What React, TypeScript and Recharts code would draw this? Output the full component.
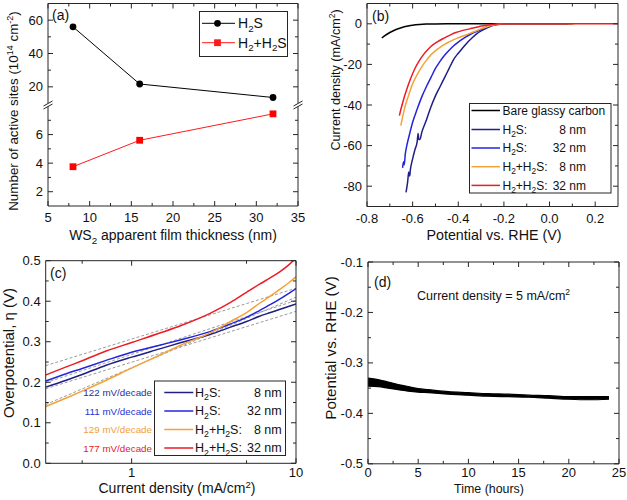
import React from 'react';
import { LineChart, Line, XAxis, YAxis, ComposedChart, Area } from 'recharts';

const W = 627;
const H = 500;
const FONT = '"Liberation Sans", Arial, Helvetica, sans-serif';
const AX = '#262626';

// ---------------- Panel (a): active sites vs thickness ----------------
const thicknessNm = [8, 16, 32];
const sitesH2S = [56, 21.7, 13.6];
const sitesH2H2S = [3.75, 5.6, 7.45];
const aXMajor = [5, 10, 15, 20, 25, 30, 35];
const aXMinor = [7.5, 12.5, 17.5, 22.5, 27.5, 32.5];
const aUpMajor = [20, 40, 60];
const aUpMinor = [30, 50];
const aLoMajor = [2, 4, 6];
const aLoMinor = [3, 5, 7];

// ---------------- Panel (b): polarization curves ----------------
const bareV = [-0.735, -0.72, -0.7, -0.68, -0.66, -0.64, -0.62, -0.6, -0.57, -0.54, -0.5, -0.45, 0.1];
const bareJ = [-7.0, -5.7, -4.3, -3.2, -2.3, -1.6, -1.1, -0.7, -0.35, -0.15, -0.05, 0, 0];
const h2s8V = [-0.629, -0.622, -0.617, -0.613, -0.61, -0.6, -0.59, -0.58, -0.576, -0.573, -0.568, -0.56, -0.54, -0.52, -0.5, -0.48, -0.46, -0.44, -0.42, -0.4, -0.38, -0.36, -0.34, -0.32, -0.3, -0.28, -0.26, -0.24, -0.22, -0.18, 0.08];
const h2s8J = [-83, -78, -73, -75, -72, -66.5, -62, -58, -54, -57, -57, -53.5, -47.5, -41, -35.5, -31, -26.5, -22, -17.5, -14.5, -11.8, -9.2, -7, -5, -3.5, -2.3, -1.3, -0.6, -0.2, 0, 0];
const h2s32V = [-0.644, -0.64, -0.637, -0.632, -0.626, -0.615, -0.6, -0.58, -0.56, -0.54, -0.52, -0.5, -0.48, -0.46, -0.44, -0.42, -0.4, -0.38, -0.36, -0.34, -0.32, -0.3, -0.28, -0.26, -0.24, -0.22, -0.2, 0.08];
const h2s32J = [-71, -68, -69.5, -64, -60.3, -55, -48.5, -42, -36, -31, -26.5, -22, -18.5, -15.5, -13, -10.8, -9, -7.4, -6, -4.8, -3.8, -2.8, -1.8, -1, -0.5, -0.2, 0, 0];
const h2h2s8V = [-0.652, -0.645, -0.633, -0.62, -0.6, -0.58, -0.56, -0.54, -0.52, -0.5, -0.48, -0.46, -0.44, -0.42, -0.4, -0.38, -0.36, -0.34, -0.32, -0.3, -0.28, -0.26, -0.24, -0.22, -0.2, 0.11];
const h2h2s8J = [-50.2, -46.5, -40.7, -36, -29.5, -25, -21.2, -18, -15.3, -13.3, -11.6, -10.1, -8.9, -7.8, -6.9, -6, -5.2, -4.3, -3.4, -2.5, -1.7, -1.0, -0.5, -0.2, 0, 0];
const h2h2s32V = [-0.658, -0.65, -0.64, -0.625, -0.61, -0.59, -0.57, -0.55, -0.53, -0.51, -0.49, -0.47, -0.45, -0.43, -0.41, -0.39, -0.37, -0.35, -0.33, -0.31, -0.29, -0.27, -0.25, -0.22, -0.2, 0.3];
const h2h2s32J = [-45.2, -41.5, -37.4, -32, -27.3, -22, -18, -14.8, -12.3, -10.3, -8.8, -7.5, -6.3, -5.2, -4.3, -3.6, -3.0, -2.5, -1.9, -1.4, -1.0, -0.6, -0.3, -0.1, 0, 0];
const bXMajor = [-0.8, -0.6, -0.4, -0.2, 0, 0.2];
const bXMinor = [-0.7, -0.5, -0.3, -0.1, 0.1];
const bYMajor = [0, -20, -40, -60, -80];
const bYMinor = [-10, -30, -50, -70];

// ---------------- Panel (c): Tafel plots ----------------
const jTafel = [0.3, 0.4, 0.5, 0.7, 1, 1.5, 2, 3, 4, 5, 6, 7, 8, 9, 10];
const etaH2S8 = [0.188, 0.205, 0.219, 0.242, 0.262, 0.283, 0.298, 0.318, 0.336, 0.35, 0.363, 0.372, 0.38, 0.387, 0.393];
const etaH2S32 = [0.203, 0.221, 0.234, 0.254, 0.274, 0.292, 0.305, 0.325, 0.344, 0.36, 0.377, 0.392, 0.406, 0.419, 0.431];
const etaH2H2S8 = [0.14, 0.161, 0.178, 0.205, 0.235, 0.268, 0.292, 0.322, 0.35, 0.372, 0.395, 0.413, 0.43, 0.445, 0.46];
const etaH2H2S32 = [0.218, 0.238, 0.253, 0.277, 0.298, 0.322, 0.34, 0.37, 0.397, 0.422, 0.442, 0.458, 0.473, 0.489, 0.507];
const fitJ = [0.3, 10];
const fitH2S8 = [0.184, 0.375];
const fitH2S32 = [0.199, 0.402];
const fitH2H2S8 = [0.145, 0.41];
const fitH2H2S32 = [0.241, 0.432];
const slopeLabels = ['122 mV/decade', '111 mV/decade', '129 mV/decade', '177 mV/decade'];
const cXMajor = [1, 10];
const cXMinor = [0.5, 5];
const cYMajor = [0, 0.1, 0.2, 0.3, 0.4, 0.5];
const cYMinor = [0.05, 0.15, 0.25, 0.35, 0.45];

// ---------------- Panel (d): stability ----------------
const timeH = [0, 1, 2, 3, 4, 5, 6, 8, 10, 12, 14, 16, 18, 20, 22, 24];
const potUpper = [-0.33, -0.333, -0.338, -0.343, -0.347, -0.351, -0.353, -0.357, -0.359, -0.361, -0.362, -0.364, -0.365, -0.367, -0.367, -0.367];
const potLower = [-0.346, -0.347, -0.35, -0.353, -0.356, -0.358, -0.359, -0.362, -0.364, -0.366, -0.367, -0.368, -0.37, -0.372, -0.373, -0.372];
const dXMajor = [0, 5, 10, 15, 20, 25];
const dXMinor = [2.5, 7.5, 12.5, 17.5, 22.5];
const dYMajor = [-0.1, -0.2, -0.3, -0.4, -0.5];
const dYMinor = [-0.15, -0.25, -0.35, -0.45];

// series colours
const C_BLACK = '#000000';
const C_NAVY = '#1f1f86';
const C_BLUE = '#2424dc';
const C_ORANGE = '#f5a236';
const C_RED = '#ec1c24';

const pts = (xs: number[], ys: number[]) => xs.map((x, i) => ({ x, y: ys[i] }));

type Side = 'left' | 'right' | 'top' | 'bottom';
function makeTick(side: Side, majors: number[], labels: boolean, fmt: (v: number) => string = (v) => String(v), labelOffset = 15.5) {
  const TickComp = (props: any) => {
    const x = Number(props.x);
    const y = Number(props.y);
    const v = Number(props.payload ? props.payload.value : 0);
    const isMajor = majors.some((m) => Math.abs(m - v) < 1e-6);
    const len = isMajor ? 5 : 3;
    const dx = side === 'left' ? len : side === 'right' ? -len : 0;
    const dy = side === 'top' ? len : side === 'bottom' ? -len : 0;
    return (
      <g>
        <line x1={x} y1={y} x2={x + dx} y2={y + dy} stroke={AX} strokeWidth={1} />
        {labels && isMajor && side === 'left' && (
          <text x={x - 5} y={y} dy="0.35em" textAnchor="end" fontSize={13} fontFamily={FONT} fill="#111">
            {fmt(v)}
          </text>
        )}
        {labels && isMajor && side === 'bottom' && (
          <text x={x} y={y + labelOffset} textAnchor="middle" fontSize={13} fontFamily={FONT} fill="#111">
            {fmt(v)}
          </text>
        )}
      </g>
    );
  };
  return TickComp;
}

const axCommon: any = {
  type: 'number',
  tickSize: 0,
  tickMargin: 0,
  tickLine: false,
  interval: 0,
  allowDataOverflow: true,
  axisLine: { stroke: AX, strokeWidth: 1 },
};

const f1 = (v: number) => v.toFixed(1);
const fInt = (v: number) => String(Math.round(v));

const boxStyle: React.CSSProperties = { position: 'absolute', left: 0, top: 0 };

const SquareDot = (p: any) => {
  if (p.cx == null || p.cy == null) return <g />;
  return <rect x={p.cx - 3.4} y={p.cy - 3.4} width={6.8} height={6.8} fill="#ff0000" />;
};
const CircleDot = (p: any) => {
  if (p.cx == null || p.cy == null) return <g />;
  return <circle cx={p.cx} cy={p.cy} r={3.4} fill="#000" />;
};

function PanelAUpper() {
  const L = 48, R = 298, T = 3.5, B = 103.5;
  return (
    <LineChart width={W} height={H} margin={{ left: L - 1, right: W - R - 1, top: T - 1, bottom: H - B }}>
      <XAxis xAxisId="t" orientation="top" height={1} dataKey="x" domain={[5, 35]} ticks={[...aXMajor, ...aXMinor]} tick={makeTick('top', aXMajor, false)} {...axCommon} />
      <YAxis yAxisId="l" width={1} domain={[10, 70]} ticks={[...aUpMajor, ...aUpMinor]} tick={makeTick('left', aUpMajor, true, fInt)} {...axCommon} />
      <YAxis yAxisId="r" orientation="right" width={1} domain={[10, 70]} ticks={[...aUpMajor, ...aUpMinor]} tick={makeTick('right', aUpMajor, false)} {...axCommon} />
      <Line xAxisId="t" yAxisId="l" data={pts(thicknessNm, sitesH2S)} dataKey="y" type="linear" stroke={C_BLACK} strokeWidth={1} dot={CircleDot} isAnimationActive={false} />
    </LineChart>
  );
}

function PanelALower() {
  const L = 48, R = 298, T = 106, B = 206;
  return (
    <LineChart width={W} height={H} margin={{ left: L - 1, right: W - R - 1, top: T, bottom: H - B - 1 }}>
      <XAxis xAxisId="b" orientation="bottom" height={1} dataKey="x" domain={[5, 35]} ticks={[...aXMajor, ...aXMinor]} tick={makeTick('bottom', aXMajor, true, fInt, 16)} {...axCommon} />
      <YAxis yAxisId="l" width={1} domain={[1, 8]} ticks={[...aLoMajor, ...aLoMinor]} tick={makeTick('left', aLoMajor, true, fInt)} {...axCommon} />
      <YAxis yAxisId="r" orientation="right" width={1} domain={[1, 8]} ticks={[...aLoMajor, ...aLoMinor]} tick={makeTick('right', aLoMajor, false)} {...axCommon} />
      <Line xAxisId="b" yAxisId="l" data={pts(thicknessNm, sitesH2H2S)} dataKey="y" type="linear" stroke="#ff1a1a" strokeWidth={1} dot={SquareDot} isAnimationActive={false} />
    </LineChart>
  );
}

function PanelB() {
  const L = 367, R = 618, T = 3.5, B = 206.5;
  const series = [
    { xs: bareV, ys: bareJ, c: C_BLACK },
    { xs: h2s8V, ys: h2s8J, c: C_NAVY },
    { xs: h2s32V, ys: h2s32J, c: C_BLUE },
    { xs: h2h2s8V, ys: h2h2s8J, c: C_ORANGE },
    { xs: h2h2s32V, ys: h2h2s32J, c: C_RED },
  ];
  return (
    <LineChart width={W} height={H} margin={{ left: L - 1, right: W - R - 1, top: T - 1, bottom: H - B - 1 }}>
      <XAxis xAxisId="b" orientation="bottom" height={1} dataKey="x" domain={[-0.8, 0.3]} ticks={[...bXMajor, ...bXMinor]} tick={makeTick('bottom', bXMajor, true, f1, 16)} {...axCommon} />
      <XAxis xAxisId="t" orientation="top" height={1} dataKey="x" domain={[-0.8, 0.3]} ticks={[...bXMajor, ...bXMinor]} tick={makeTick('top', bXMajor, false)} {...axCommon} />
      <YAxis yAxisId="l" width={1} domain={[-90, 10]} ticks={[...bYMajor, ...bYMinor]} tick={makeTick('left', bYMajor, true, fInt)} {...axCommon} />
      <YAxis yAxisId="r" orientation="right" width={1} domain={[-90, 10]} ticks={[...bYMajor, ...bYMinor]} tick={makeTick('right', bYMajor, false)} {...axCommon} />
      {series.map((s, i) => (
        <Line key={i} xAxisId="b" yAxisId="l" data={pts(s.xs, s.ys)} dataKey="y" type="monotone" stroke={s.c} strokeWidth={1.5} dot={false} isAnimationActive={false} />
      ))}
    </LineChart>
  );
}

function PanelC() {
  const L = 45.7, R = 296, T = 260.7, B = 463.3;
  const series = [
    { ys: etaH2S8, c: C_NAVY },
    { ys: etaH2S32, c: C_BLUE },
    { ys: etaH2H2S8, c: C_ORANGE },
    { ys: etaH2H2S32, c: C_RED },
  ];
  const fits = [fitH2S8, fitH2S32, fitH2H2S8, fitH2H2S32];
  return (
    <LineChart width={W} height={H} margin={{ left: L - 1, right: W - R - 1, top: T - 1, bottom: H - B - 1 }}>
      <XAxis xAxisId="b" orientation="bottom" height={1} dataKey="x" scale="log" domain={[0.3, 10]} ticks={[...cXMajor, ...cXMinor]} tick={makeTick('bottom', cXMajor, true, fInt, 13.5)} {...axCommon} />
      <XAxis xAxisId="t" orientation="top" height={1} dataKey="x" scale="log" domain={[0.3, 10]} ticks={[...cXMajor, ...cXMinor]} tick={makeTick('top', cXMajor, false)} {...axCommon} />
      <YAxis yAxisId="l" width={1} domain={[0, 0.5]} ticks={[...cYMajor, ...cYMinor]} tick={makeTick('left', cYMajor, true, f1)} {...axCommon} />
      <YAxis yAxisId="r" orientation="right" width={1} domain={[0, 0.5]} ticks={[...cYMajor, ...cYMinor]} tick={makeTick('right', cYMajor, false)} {...axCommon} />
      {fits.map((f, i) => (
        <Line key={'f' + i} xAxisId="b" yAxisId="l" data={pts(fitJ, f)} dataKey="y" type="linear" stroke="#9a9a9a" strokeWidth={1} strokeDasharray="3 2" dot={false} isAnimationActive={false} />
      ))}
      {series.map((s, i) => (
        <Line key={'s' + i} xAxisId="b" yAxisId="l" data={pts(jTafel, s.ys)} dataKey="y" type="monotone" stroke={s.c} strokeWidth={1.5} dot={false} isAnimationActive={false} />
      ))}
    </LineChart>
  );
}

function PanelD() {
  const L = 368, R = 619, T = 262, B = 463.8;
  const data = timeH.map((t, i) => ({ x: t, band: [potLower[i], potUpper[i]] }));
  return (
    <ComposedChart data={data} width={W} height={H} margin={{ left: L - 1, right: W - R - 1, top: T - 1, bottom: H - B - 1 }}>
      <XAxis xAxisId="b" orientation="bottom" height={1} dataKey="x" domain={[0, 25]} ticks={[...dXMajor, ...dXMinor]} tick={makeTick('bottom', dXMajor, true, fInt, 12.8)} {...axCommon} />
      <XAxis xAxisId="t" orientation="top" height={1} dataKey="x" domain={[0, 25]} ticks={[...dXMajor, ...dXMinor]} tick={makeTick('top', dXMajor, false)} {...axCommon} />
      <YAxis yAxisId="l" width={1} domain={[-0.5, -0.1]} ticks={[...dYMajor, ...dYMinor]} tick={makeTick('left', dYMajor, true, f1)} {...axCommon} />
      <YAxis yAxisId="r" orientation="right" width={1} domain={[-0.5, -0.1]} ticks={[...dYMajor, ...dYMinor]} tick={makeTick('right', dYMajor, false)} {...axCommon} />
      <Area xAxisId="b" yAxisId="l" dataKey="band" type="monotone" stroke="#000" strokeWidth={1.2} fill="#000" fillOpacity={1} isAnimationActive={false} />
    </ComposedChart>
  );
}

const legendAItems = [
  { label: 'H2S', color: '#000', marker: 'circle' },
  { label: 'H2+H2S', color: '#ff1a1a', marker: 'square' },
];
const lsvLegendLabels = ['Bare glassy carbon', 'H2S:|8 nm', 'H2S:|32 nm', 'H2+H2S:|8 nm', 'H2+H2S:|32 nm'];
const lsvLegendColors = [C_BLACK, C_NAVY, C_BLUE, C_ORANGE, C_RED];
const tafelLegendLabels = ['H2S:|8 nm', 'H2S:|32 nm', 'H2+H2S:|8 nm', 'H2+H2S:|32 nm'];
const tafelLegendColors = [C_NAVY, C_BLUE, C_ORANGE, C_RED];
const slopeColors = ['#2e2e96', '#2a30d8', '#f2a03a', '#e3222a'];

// render text where every "2" directly after "H" (or "WS") is a subscript
function chem(s: string, fs: number) {
  const parts: React.ReactNode[] = [];
  let buf = '';
  let shifted = false;
  let key = 0;
  for (let i = 0; i < s.length; i++) {
    const ch = s[i];
    if (ch === '2' && i > 0 && (s[i - 1] === 'H' || (s[i - 1] === 'S' && s[i - 2] === 'W'))) {
      if (buf) parts.push(<tspan key={key++} dy={shifted ? -fs * 0.25 : 0}>{buf}</tspan>);
      shifted = false;
      buf = '';
      parts.push(<tspan key={key++} dy={fs * 0.25} fontSize={fs * 0.7}>2</tspan>);
      shifted = true;
    } else {
      buf += ch;
    }
  }
  if (buf) parts.push(<tspan key={key++} dy={shifted ? -fs * 0.25 : 0}>{buf}</tspan>);
  return parts;
}

function Overlay() {
  const txt = { fontFamily: FONT, fill: '#111' } as const;
  return (
    <svg width={W} height={H} style={boxStyle}>
      {/* axis break marks for panel (a) */}
      {[48, 298].map((x) => (
        <g key={x}>
          <polygon points={`${x - 4.5},${106} ${x + 4.5},${101} ${x + 4.5},${104} ${x - 4.5},${109}`} fill="#fff" />
          <line x1={x - 4.5} y1={106} x2={x + 4.5} y2={101} stroke={AX} strokeWidth={1} />
          <line x1={x - 4.5} y1={109} x2={x + 4.5} y2={104} stroke={AX} strokeWidth={1} />
        </g>
      ))}

      {/* panel letters */}
      <text x={52} y={20} fontSize={14} {...txt}>(a)</text>
      <text x={372} y={21} fontSize={14} {...txt}>(b)</text>
      <text x={50} y={278} fontSize={14} {...txt}>(c)</text>
      <text x={374} y={287} fontSize={14} {...txt}>(d)</text>

      {/* axis titles */}
      <text x={173} y={240} textAnchor="middle" fontSize={14} {...txt}>{chem('WS2 apparent film thickness (nm)', 14)}</text>
      <text transform="translate(18,111) rotate(-90)" textAnchor="middle" fontSize={13.4} {...txt}>
        Number of active sites (10<tspan dy={-5} fontSize={9}>14</tspan><tspan dy={5}> cm</tspan><tspan dy={-5} fontSize={9}>-2</tspan><tspan dy={5}>)</tspan>
      </text>
      <text x={494} y={240} textAnchor="middle" fontSize={14.3} {...txt}>Potential vs. RHE (V)</text>
      <text transform="translate(340,80) rotate(-90)" textAnchor="middle" fontSize={12.6} {...txt}>
        Current density (mA/cm<tspan dy={-5} fontSize={8.5}>2</tspan><tspan dy={5}>)</tspan>
      </text>
      <text x={177} y={493} textAnchor="middle" fontSize={14} {...txt}>
        Current density (mA/cm<tspan dy={-5} fontSize={9.5}>2</tspan><tspan dy={5}>)</tspan>
      </text>
      <text transform="translate(14,353) rotate(-90)" textAnchor="middle" fontSize={15} {...txt}>Overpotential, η (V)</text>
      <text x={489} y={493} textAnchor="middle" fontSize={12.4} {...txt}>Time (hours)</text>
      <text transform="translate(336,348) rotate(-90)" textAnchor="middle" fontSize={15.2} {...txt}>Potential vs. RHE (V)</text>

      {/* panel (d) annotation */}
      <text x={417} y={300} fontSize={12.5} {...txt}>
        Current density = 5 mA/cm<tspan dy={-5} fontSize={8.5}>2</tspan>
      </text>

      {/* legend (a) */}
      <rect x={199.5} y={11.5} width={88} height={45} fill="#fff" stroke={AX} strokeWidth={1} />
      {legendAItems.map((it, i) => {
        const cy = i === 0 ? 23.3 : 42.7;
        return (
          <g key={i}>
            <line x1={202} y1={cy} x2={235} y2={cy} stroke={it.color} strokeWidth={1} />
            {it.marker === 'circle' ? (
              <circle cx={217.5} cy={cy} r={3.4} fill={it.color} />
            ) : (
              <rect x={214.1} y={cy - 3.4} width={6.8} height={6.8} fill={it.color} />
            )}
            <text x={238} y={cy + 5} fontSize={14} {...txt}>{chem(it.label, 14)}</text>
          </g>
        );
      })}

      {/* legend (b) */}
      <rect x={469.5} y={103.5} width={141.5} height={89.5} fill="#fff" stroke={AX} strokeWidth={1} />
      {lsvLegendLabels.map((lab, i) => {
        const cy = [110.5, 129.5, 148, 166.7, 185.4][i];
        const [a, b] = lab.split('|');
        return (
          <g key={i}>
            <line x1={471.5} y1={cy} x2={500} y2={cy} stroke={lsvLegendColors[i]} strokeWidth={1.5} />
            <text x={502.5} y={cy + 4.3} fontSize={12} {...txt}>{chem(a, 12)}</text>
            {b && <text x={586} y={cy + 4.3} fontSize={12} textAnchor="end" {...txt}>{b}</text>}
          </g>
        );
      })}

      {/* legend (c) */}
      <rect x={154.5} y={381} width={131} height={74.5} fill="#fff" stroke={AX} strokeWidth={1} />
      {tafelLegendLabels.map((lab, i) => {
        const cy = [392.5, 411, 429.5, 448][i];
        const [a, b] = lab.split('|');
        return (
          <g key={i}>
            <line x1={164.3} y1={cy} x2={193.3} y2={cy} stroke={tafelLegendColors[i]} strokeWidth={1.5} />
            <text x={195} y={cy + 4.4} fontSize={12.5} {...txt}>{chem(a, 12.5)}</text>
            <text x={281.7} y={cy + 4.4} fontSize={12.5} textAnchor="end" {...txt}>{b}</text>
            <text x={152} y={cy + 3.5} fontSize={9.8} textAnchor="end" fontFamily={FONT} fill={slopeColors[i]}>{slopeLabels[i]}</text>
          </g>
        );
      })}
    </svg>
  );
}

export default function App() {
  return (
    <div style={{ position: 'absolute', left: 0, top: 0, width: W, height: H, background: '#fff', overflow: 'hidden', fontFamily: FONT }}>
      <div style={boxStyle}><PanelAUpper /></div>
      <div style={boxStyle}><PanelALower /></div>
      <div style={boxStyle}><PanelB /></div>
      <div style={boxStyle}><PanelC /></div>
      <div style={boxStyle}><PanelD /></div>
      <Overlay />
    </div>
  );
}
